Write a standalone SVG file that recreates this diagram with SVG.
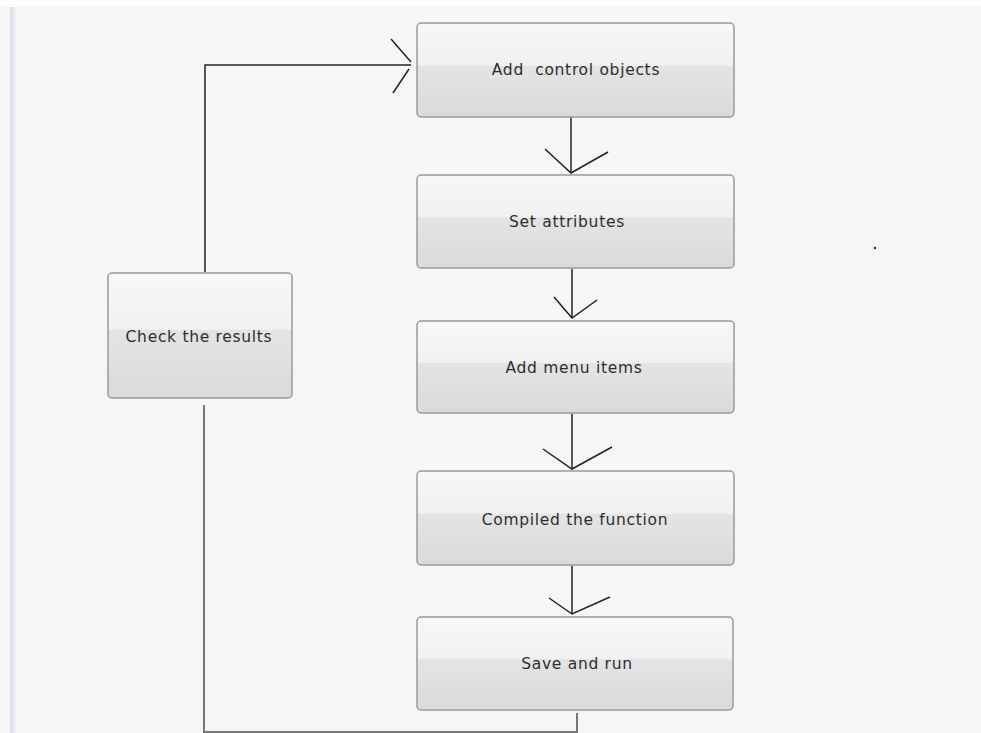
<svg xmlns="http://www.w3.org/2000/svg" width="981" height="733" viewBox="0 0 981 733">
<defs>
<linearGradient id="g" x1="0" y1="0" x2="0" y2="1">
<stop offset="0" stop-color="#f7f7f7"/>
<stop offset="0.45" stop-color="#f1f1f1"/>
<stop offset="0.46" stop-color="#e4e4e4"/>
<stop offset="1" stop-color="#dadada"/>
</linearGradient>
<linearGradient id="edge" x1="0" y1="0" x2="1" y2="0">
<stop offset="0" stop-color="#d4dae4"/>
<stop offset="1" stop-color="#f2f3f5"/>
</linearGradient>
</defs>
<style>
.box{fill:url(#g);stroke:#9a9a9a;stroke-width:1.5}
.lbl{font-family:"DejaVu Sans",Verdana,sans-serif;font-size:15.5px;letter-spacing:0.7px;fill:#2e2e2e;text-anchor:middle;dominant-baseline:central}
.ln{fill:none;stroke:#222;stroke-width:1.5}
.lg{fill:none;stroke:#777;stroke-width:2}
</style>
<rect x="0" y="0" width="981" height="733" fill="#f6f6f6"/>
<rect x="0" y="0" width="981" height="7" fill="#fdfdfd"/>
<rect x="10" y="7" width="6" height="726" fill="url(#edge)"/>
<circle cx="875" cy="248" r="1.3" fill="#333"/>
<g id="connectors">
<line class="ln" x1="571" y1="117" x2="571" y2="173"/>
<polyline class="ln" points="545,149 571,173 608,152"/>
<line class="ln" x1="572" y1="269" x2="572" y2="318"/>
<polyline class="ln" points="554,297 572,318 597,300"/>
<line class="ln" x1="572" y1="414" x2="572" y2="469"/>
<polyline class="ln" points="543,449 572,469 612,447"/>
<line class="ln" x1="572" y1="566" x2="572" y2="614"/>
<polyline class="ln" points="549,598 572,614 610,597"/>
<line class="lg" x1="577" y1="713" x2="577" y2="733"/>
<line class="lg" x1="204" y1="732" x2="577" y2="732"/>
<line class="lg" x1="204" y1="405" x2="204" y2="733"/>
<polyline class="ln" points="205,272 205,65 411,65"/>
<polyline class="ln" points="391,39 411,62"/>
<polyline class="ln" points="409,69 393,93"/>
</g>
<g id="n1"><rect class="box" x="417" y="23" width="317" height="94" rx="4"/><text class="lbl" x="576" y="70" xml:space="preserve">Add  control objects</text></g>
<g id="n2"><rect class="box" x="417" y="175" width="317" height="93" rx="4"/><text class="lbl" x="567" y="222">Set attributes</text></g>
<g id="n3"><rect class="box" x="417" y="321" width="317" height="92" rx="4"/><text class="lbl" x="574" y="368">Add menu items</text></g>
<g id="n4"><rect class="box" x="417" y="471" width="317" height="94" rx="4"/><text class="lbl" x="575" y="520">Compiled the function</text></g>
<g id="n5"><rect class="box" x="417" y="617" width="316" height="93" rx="4"/><text class="lbl" x="577" y="664">Save and run</text></g>
<g id="n6"><rect class="box" x="108" y="273" width="184" height="125" rx="4"/><text class="lbl" x="199" y="337">Check the results</text></g>
</svg>
